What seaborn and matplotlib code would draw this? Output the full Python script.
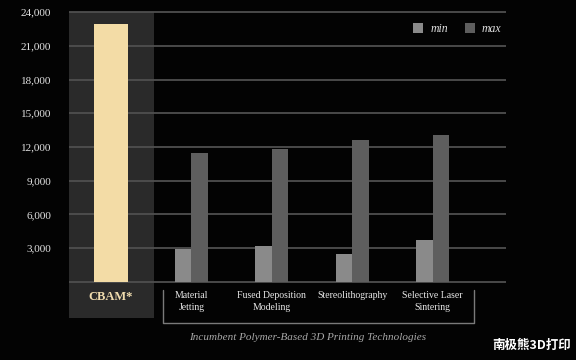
import matplotlib
matplotlib.use("Agg")
import matplotlib.pyplot as plt
from matplotlib.patches import Rectangle
import seaborn as sns
import pandas as pd

# data
categories = ["CBAM*", "Material\nJetting", "Fused Deposition\nModeling",
              "Stereolithography", "Selective Laser\nSintering"]
cbam_value = [22900]
techs = categories[1:]
min_values = [2900, 3200, 2500, 3750]
max_values = [11500, 11800, 12600, 13100]
yticks = [0, 3000, 6000, 9000, 12000, 15000, 18000, 21000, 24000]

df = pd.DataFrame({
    "tech": techs * 2,
    "value": min_values + max_values,
    "stat": ["min"] * len(techs) + ["max"] * len(techs),
})

sns.set_style("dark")
plt.rcParams["font.family"] = ["Liberation Serif", "DejaVu Serif"]

fig = plt.figure(figsize=(5.76, 3.6), dpi=100, facecolor="#030303")
ax = fig.add_axes([69 / 576, 1 - 283.1 / 360, 437 / 576, 272.2 / 360])
ax.set_facecolor("#030303")

sns.barplot(x=categories[:1], y=cbam_value, order=categories, color="#f3dca6",
            width=0.415, saturation=1, linewidth=0, edgecolor="none", ax=ax)
sns.barplot(data=df, x="tech", y="value", hue="stat", order=categories,
            palette={"min": "#8a8a8a", "max": "#5e5e5e"}, width=0.415,
            saturation=1, linewidth=0, edgecolor="none", ax=ax)

ax.set_xlim(-0.522, 4.913)
ax.set_ylim(-100, 24100)
for s in ax.spines.values():
    s.set_visible(False)

# dark panel behind the CBAM bar, runs down into the label area
xform = ax.get_xaxis_transform()
ax.add_patch(Rectangle((-0.517, -0.128), 1.055, 0.9959 + 0.128, transform=xform,
                       facecolor="#2a2a2a", edgecolor="none", zorder=0.2, clip_on=False))

ax.set_axisbelow(True)
ax.yaxis.grid(True, color="#4f4f4f", lw=1.3)
ax.xaxis.grid(False)
ax.set_yticks(yticks)
ax.set_yticklabels([""] + [f"{v:,}" for v in yticks[1:]])
ax.tick_params(axis="y", length=0, pad=13, labelsize=8, labelcolor="#e2e2e2")

ax.set_xticks(range(len(categories)))
ax.set_xticklabels(categories, linespacing=1.35)
ax.tick_params(axis="x", length=0, pad=6, labelsize=7, labelcolor="#e8e8e8")
lbl = ax.get_xticklabels()
lbl[0].set_fontsize(9)
lbl[0].set_fontweight("bold")
lbl[0].set_color("#f0dcae")
ax.set_xlabel("")
ax.set_ylabel("")

# bracket under the incumbent technologies
ax.plot([0.647, 0.647, 4.515, 4.515], [-0.0253, -0.1455, -0.1455, -0.0253],
        transform=xform, color="#7a7a7a", lw=1, clip_on=False)

fig.text(308 / 576, 1 - 337 / 360, "Incumbent Polymer-Based 3D Printing Technologies",
         ha="center", va="center", fontsize=8, style="italic", color="#a8a8a8")

handles, labels = ax.get_legend_handles_labels()
leg = ax.legend(handles, labels, ncol=2, frameon=False, loc="center right",
                bbox_to_anchor=(1.0, 0.933), handlelength=0.85, handleheight=0.85,
                handletextpad=0.6, columnspacing=1.4, borderaxespad=0,
                prop={"style": "italic", "size": 8.5})
for t in leg.get_texts():
    t.set_color("#e0e0e0")

fig.text(571 / 576, 1 - 345 / 360, "南极熊3D打印", ha="right", va="center",
         fontsize=9, fontweight="bold", color="white",
         family=["Noto Sans CJK SC", "DejaVu Sans"])

fig.savefig("out.png", dpi=100, facecolor=fig.get_facecolor())
